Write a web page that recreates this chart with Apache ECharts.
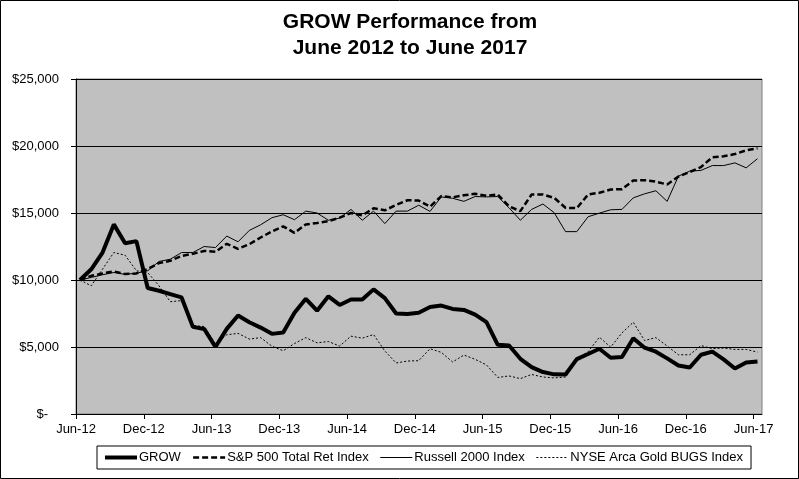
<!DOCTYPE html>
<html>
<head>
<meta charset="utf-8">
<script src="https://cdn.jsdelivr.net/npm/echarts@6/dist/echarts.min.js"></script>
<style>
html,body{margin:0;padding:0;background:#fff;}
#chart{width:799px;height:479px;}
</style>
</head>
<body>
<div id="chart"></div>
<script>
// Monthly observations, Jun-2012 .. Jun-2017 (61 months)
const xTickLabels = ['Jun-12','Dec-12','Jun-13','Dec-13','Jun-14','Dec-14','Jun-15','Dec-15','Jun-16','Dec-16','Jun-17'];
const seriesNames = ['GROW','S&P 500 Total Ret Index','Russell 2000 Index','NYSE Arca Gold BUGS Index'];

const grow = [10000,10800,12050,14150,12740,12900,9400,9200,8950,8700,
  6500,6350,5000,6350,7350,6850,6450,5980,6080,7550,
  8600,7710,8780,8140,8550,8550,9300,8650,7500,7470,
  7560,7980,8090,7840,7770,7420,6850,5160,5110,4120,
  3500,3130,2960,2950,4100,4480,4870,4200,4250,5660,
  4950,4650,4150,3620,3470,4420,4660,4080,3400,3850,3920];

const sp500 = [10000,10310,10490,10640,10440,10490,10810,11260,11430,11800,
  11950,12170,12100,12700,12330,12670,13170,13620,14000,13520,
  14150,14250,14390,14650,15000,14820,15350,15200,15600,15950,
  15930,15470,16260,16170,16320,16430,16290,16380,15490,15140,
  16380,16380,16130,15390,15360,16380,16510,16750,16780,17420,
  17450,17340,17130,17720,18060,18430,19160,19230,19400,19680,19830];

const russell = [10000,10190,10390,10560,10420,10510,10690,11380,11550,12050,
  12050,12500,12420,13280,12850,13700,14120,14650,14870,14500,
  15140,15000,14460,14620,15270,14460,15140,14210,15140,15140,
  15580,15120,16200,16100,15870,16230,16200,16230,15390,14460,
  15270,15670,15020,13610,13610,14720,14990,15240,15270,16130,
  16430,16660,15870,17750,18120,18180,18540,18540,18740,18370,19050];

const goldBugs = [10000,9570,10810,12050,11850,10690,10560,9570,8380,8460,
  6600,6530,5240,5910,6020,5590,5700,5060,4720,5260,
  5700,5310,5410,5070,5810,5660,5930,4700,3810,3950,
  3980,4870,4600,3880,4400,4080,3660,2730,2840,2640,
  2950,2760,2690,2760,4100,4650,5730,4990,6050,6850,
  5480,5700,5070,4420,4420,5110,4870,4920,4820,4820,4620];

// observation falls a little after each month start
const OBS_OFFSET = 0.35;
const toXY = arr => arr.map((v, i) => [i + OBS_OFFSET, v]);

const FONT = 'Liberation Sans, Arial, sans-serif';
const lineStyles = [
  {color: '#000', width: 4, type: 'solid'},
  {color: '#000', width: 2.5, type: [6, 3]},
  {color: '#000', width: 1, type: 'solid'},
  {color: '#000', width: 1, type: [2, 2]}
];
const seriesData = [grow, sp500, russell, goldBugs];

const chart = echarts.init(document.getElementById('chart'), null, {renderer: 'canvas'});
chart.setOption({
  animation: false,
  backgroundColor: '#ffffff',
  title: {
    text: 'GROW Performance from\nJune 2012 to June 2017',
    left: 410, top: 9, padding: 0,
    textAlign: 'center',
    textStyle: {fontFamily: FONT, fontSize: 21, fontWeight: 'bold', color: '#000', lineHeight: 26}
  },
  graphic: [{
    type: 'rect', silent: true, z: -1,
    shape: {x: 0.5, y: 0.5, width: 798, height: 478},
    style: {fill: 'none', stroke: '#000', lineWidth: 1}
  }],
  legend: {
    data: seriesNames.map((n, k) => ({name: n, lineStyle: Object.assign({}, lineStyles[k])})),
    left: 97, top: 446,
    padding: [5, 8, 5, 6],
    borderColor: '#000', borderWidth: 1,
    itemWidth: 32, itemHeight: 12, itemGap: 11,
    itemStyle: {opacity: 0},
    textStyle: {fontFamily: FONT, fontSize: 13, color: '#000', padding: [0, 0, 0, -3]}
  },
  grid: {
    left: 76, top: 79, right: 37, bottom: 65,
    show: true, backgroundColor: '#c0c0c0', borderColor: '#808080', borderWidth: 1
  },
  xAxis: {
    type: 'value', min: 0, max: 60.75, interval: 6,
    axisLine: {lineStyle: {color: '#000', width: 1}},
    axisTick: {show: true, length: 5, inside: false, lineStyle: {color: '#000'}},
    splitLine: {show: false},
    axisLabel: {
      margin: 9, fontFamily: FONT, fontSize: 13, color: '#000',
      showMaxLabel: false,
      formatter: v => (Math.abs(v / 6 - Math.round(v / 6)) < 1e-6 ? (xTickLabels[Math.round(v / 6)] || '') : '')
    }
  },
  yAxis: {
    type: 'value', min: 0, max: 25000, interval: 5000,
    axisLine: {show: true, lineStyle: {color: '#000', width: 1}},
    axisTick: {show: true, length: 5, lineStyle: {color: '#000'}},
    splitLine: {show: true, lineStyle: {color: '#000', width: 1}},
    axisLabel: {
      margin: 17, fontFamily: FONT, fontSize: 13, color: '#000',
      formatter: v => v === 0 ? '$-   ' : '$' + v.toLocaleString('en-US')
    }
  },
  series: seriesNames.map((n, k) => ({
    name: n, type: 'line', data: toXY(seriesData[k]), symbol: 'none',
    lineStyle: lineStyles[k], itemStyle: {color: '#000'}
  }))
});
</script>
</body>
</html>
